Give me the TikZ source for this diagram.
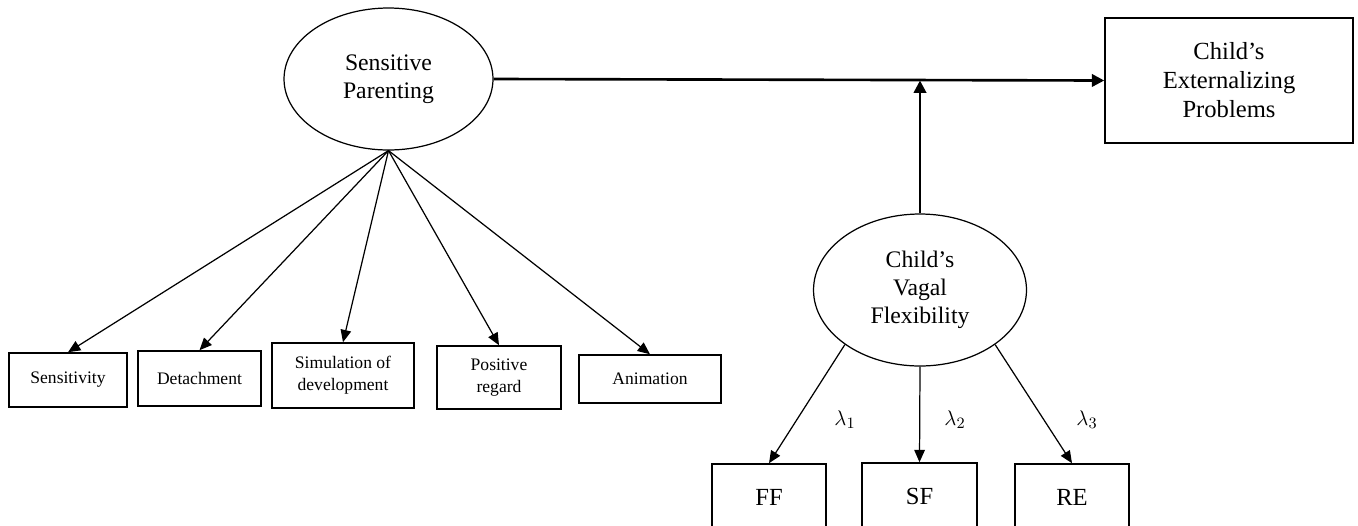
\documentclass[tikz,border=0pt]{standalone}
\usepackage{fontspec}
\setmainfont{Liberation Serif}
\usetikzlibrary{arrows.meta, positioning, shapes.geometric, calc}

\begin{document}
\begin{tikzpicture}[
  x=0.02cm, y=-0.02cm,
  latent/.style={draw, ellipse, inner sep=0pt, align=center, line width=0.7pt, font=\fontsize{13.5}{16}\selectfont},
  ind/.style={draw, inner sep=0pt, align=center, line width=0.9pt, font=\fontsize{10}{12.5}\selectfont},
  big/.style={draw, inner sep=0pt, align=center, line width=0.9pt, font=\fontsize{14}{16.5}\selectfont},
  arr/.style={-{Triangle[length=7pt, width=6pt]}, line width=0.7pt},
  thickarr/.style={-{Triangle[length=7pt, width=7pt]}, line width=1.5pt},
  lam/.style={font=\fontsize{13}{15}\selectfont},
]
\clip (0,0) rectangle (1358,525);

\node[latent, minimum width=4.18cm, minimum height=2.84cm] (parenting) at (388.5,79) {Sensitive\\Parenting};
\node[latent, minimum width=4.26cm, minimum height=3.04cm] (vagal) at (920,290) {Child’s\\Vagal\\Flexibility};
\node[big, minimum width=4.96cm, minimum height=2.5cm] (extern) at (1229,80.5) {Child’s\\Externalizing\\Problems};

\node[ind, minimum width=2.36cm, minimum height=1.08cm] (sens) at (68,380) {Sensitivity};
\node[ind, minimum width=2.46cm, minimum height=1.1cm] (detach) at (199.5,378.5) {Detachment};
\node[ind, minimum width=2.84cm, minimum height=1.3cm] (simul) at (343,375.5) {Simulation of\\development};
\node[ind, minimum width=2.48cm, minimum height=1.26cm] (regard) at (499,377.5) {Positive\\regard};
\node[ind, minimum width=2.84cm, minimum height=0.96cm] (anim) at (650,379) {Animation};

\node[big, minimum width=2.28cm, minimum height=1.32cm] (ff) at (769,497) {FF};
\node[big, minimum width=2.3cm, minimum height=1.32cm] (sf) at (919.5,496) {SF};
\node[big, minimum width=2.28cm, minimum height=1.32cm] (re) at (1072,497) {RE};

\node[lam] (lam1) at (845,420) {$\lambda_1$};
\node[lam] (lam2) at (955,420) {$\lambda_2$};
\node[lam] (lam3) at (1087,420) {$\lambda_3$};

\coordinate (join) at (vagal.north |- extern.west);

% indicators of sensitive parenting
\foreach \target in {sens, detach, simul, regard, anim}
  \draw[arr] (parenting.south) -- (\target.north);

% main path and moderation
\draw[thickarr] (parenting.east) -- (extern.west);
\draw[thickarr] (vagal.north) -- (join);

% indicators of vagal flexibility
\draw[arr] (vagal.216) -- (ff.north);
\draw[arr] (vagal.south) -- (sf.north);
\draw[arr] (vagal.324) -- (re.north);

\end{tikzpicture}
\end{document}
